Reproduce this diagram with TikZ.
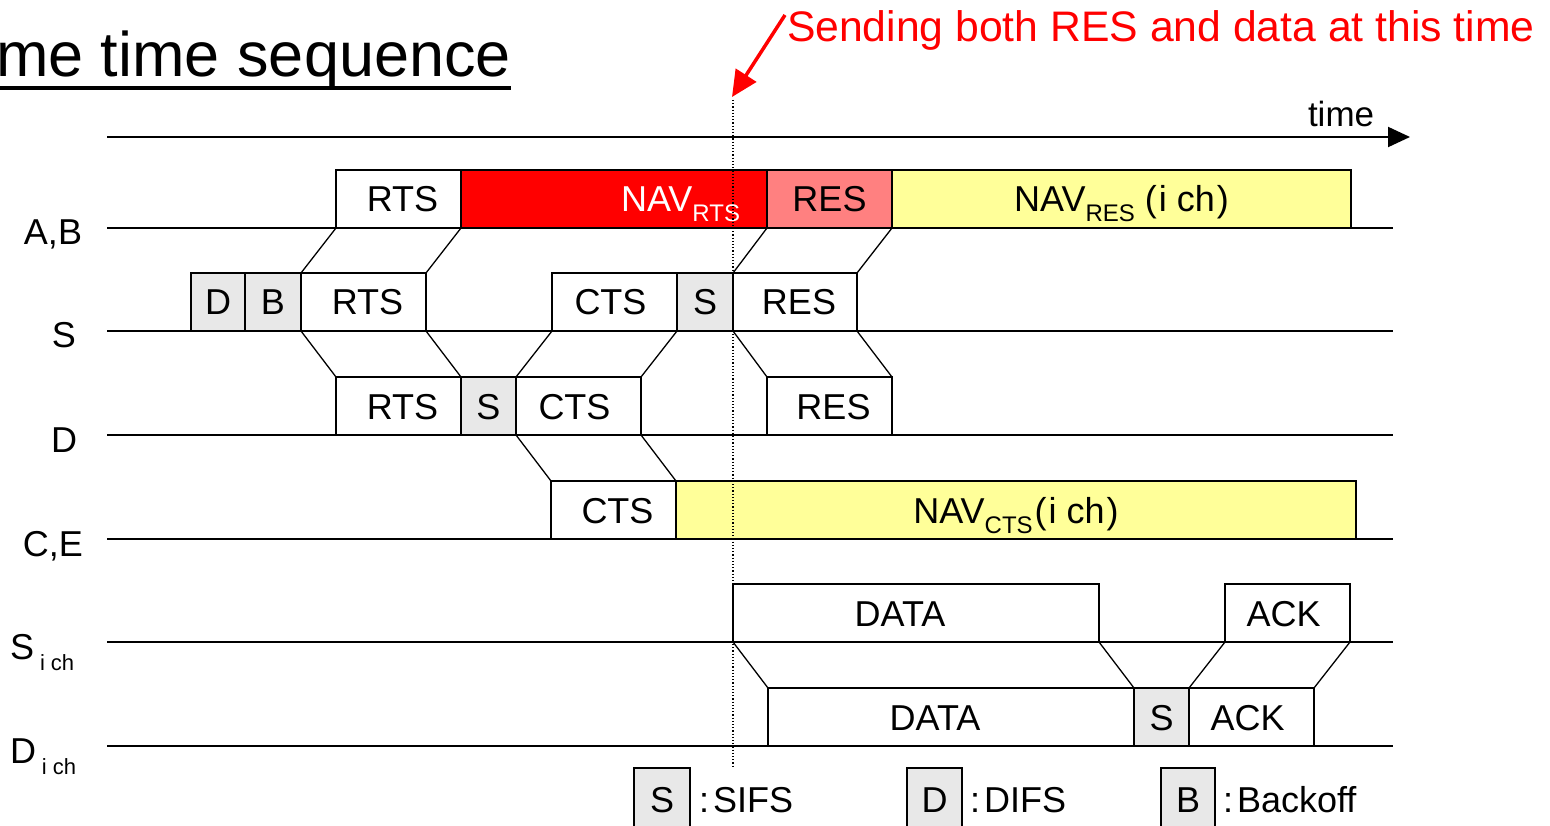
\documentclass[tikz,border=0pt]{standalone}
\usepackage{fontspec}
\setmainfont{Liberation Sans}
\usetikzlibrary{arrows.meta}
\definecolor{navred}{HTML}{FF0000}
\definecolor{respink}{HTML}{FF8080}
\definecolor{navyel}{HTML}{FFFF99}
\definecolor{sgrey}{HTML}{E8E8E8}
\newcommand\subtxt[1]{\raisebox{-10pt}{\fontsize{24}{24}\selectfont #1}}
\newcommand\ich{(\hspace{2pt}i ch\hspace{2pt})}
\newcommand\bx[6]{\node[frame,fill=#5,minimum width={#3-#2},anchor=south west] (#1) at (#2,#4) {#6};}
\tikzset{
  frame/.style={draw, line width=1.6pt, inner sep=0pt, outer sep=0pt, minimum height=58pt,
    text height=26pt, text depth=0pt, font=\fontsize{36}{40}\selectfont},
  tline/.style={line width=2pt},
  prop/.style={line width=1.3pt},
  lbl/.style={inner sep=0pt, outer sep=0pt, font=\fontsize{36}{40}\selectfont},
}
\begin{document}
\begin{tikzpicture}[x=1pt,y=-1pt]
\useasboundingbox (0,0) rectangle (1550,826);
\clip (0,0) rectangle (1550,826);
% title
\node[lbl, anchor=base west, font=\fontsize{63}{70}\selectfont] (title) at (-4,77) {me time sequence};
\draw[line width=4pt] (0,88) -- (511,88);
% note
\node[lbl, anchor=base west, text=navred, font=\fontsize{42.7}{48}\selectfont] (note) at (787,42) {Sending both RES and data at this time};
\coordinate (arrS) at (785,15);
\coordinate (arrT) at (732,97);
\draw[navred, line width=3.5pt, -{Triangle[length=26pt,width=24pt]}] (arrS) -- (arrT);
% time axis
\coordinate (t0) at (107,137);
\coordinate (t1) at (1410,137);
\draw[tline, -{Triangle[length=22pt,width=20pt]}] (t0) -- (t1);
\node[lbl, anchor=base west, font=\fontsize{35}{40}\selectfont] (timelbl) at (1308,127) {time};
% timelines
\foreach \n/\y in {ab/228, s/331, d/435, ce/539, si/642, di/746}{
  \coordinate (\n L) at (107,\y);
  \coordinate (\n R) at (1393,\y);
  \draw[tline] (\n L) -- (\n R);
}
% row labels
\node[lbl, anchor=base] (labAB) at (53,245) {A,B};
\node[lbl, anchor=base] (labS) at (64,348) {S};
\node[lbl, anchor=base] (labD) at (64,452) {D};
\node[lbl, anchor=base] (labCE) at (53,556) {C,E};
\node[lbl, anchor=base west] (labSi) at (10,659) {S\hspace{6pt}\raisebox{-11pt}{\fontsize{22}{22}\selectfont i ch}};
\node[lbl, anchor=base west] (labDi) at (10,763) {D\hspace{6pt}\raisebox{-11pt}{\fontsize{22}{22}\selectfont i ch}};
% row A,B
\bx{abRTS}{336}{461}{228}{white}{\kern8pt RTS}
\bx{abNAV}{461}{767}{228}{navred}{}
\node[lbl, anchor=east, text=white, text height=26pt, text depth=0pt] (abNAVt) at ([xshift=-27pt]abNAV.east) {NAV\subtxt{RTS}};
\bx{abRES}{767}{892}{228}{respink}{RES}
\bx{abNAVr}{892}{1351}{228}{navyel}{NAV\subtxt{RES} \ich}
% row S
\bx{sD}{191}{245}{331}{sgrey}{D}
\bx{sB}{245}{301}{331}{sgrey}{B}
\bx{sRTS}{301}{426}{331}{white}{\kern8pt RTS}
\bx{sCTS}{552}{677}{331}{white}{CTS\kern8pt}
\bx{sS}{677}{733}{331}{sgrey}{S}
\bx{sRES}{733}{857}{331}{white}{\kern8pt RES}
% row D
\bx{dRTS}{336}{461}{435}{white}{\kern8pt RTS}
\bx{dS}{461}{516}{435}{sgrey}{S}
\bx{dCTS}{516}{641}{435}{white}{CTS\kern8pt}
\bx{dRES}{767}{892}{435}{white}{\kern8pt RES}
% row C,E
\bx{ceCTS}{551}{676}{539}{white}{\kern8pt CTS}
\bx{ceNAV}{676}{1356}{539}{navyel}{NAV\subtxt{CTS}\hspace{2pt}\ich}
% row S ich
\bx{iDATA}{733}{1099}{642}{white}{DATA\kern32pt}
\bx{iACK}{1225}{1350}{642}{white}{ACK\kern8pt}
% row D ich
\bx{jDATA}{768}{1134}{746}{white}{DATA\kern32pt}
\bx{jS}{1134}{1189}{746}{sgrey}{S}
\bx{jACK}{1189}{1314}{746}{white}{ACK\kern8pt}
% propagation
\draw[prop] (sRTS.north west) -- (abRTS.south west);
\draw[prop] (sRTS.north east) -- (abRTS.south east);
\draw[prop] (sRTS.south west) -- (dRTS.north west);
\draw[prop] (sRTS.south east) -- (dRTS.north east);
\draw[prop] (dCTS.north west) -- (sCTS.south west);
\draw[prop] (dCTS.north east) -- (sCTS.south east);
\draw[prop] (dCTS.south west) -- (ceCTS.north west);
\draw[prop] (dCTS.south east) -- (ceCTS.north east);
\draw[prop] (sRES.north west) -- (abRES.south west);
\draw[prop] (sRES.north east) -- (abRES.south east);
\draw[prop] (sRES.south west) -- (dRES.north west);
\draw[prop] (sRES.south east) -- (dRES.north east);
\draw[prop] (iDATA.south west) -- (jDATA.north west);
\draw[prop] (iDATA.south east) -- (jDATA.north east);
\draw[prop] (jACK.north west) -- (iACK.south west);
\draw[prop] (jACK.north east) -- (iACK.south east);
% legend
\node[frame, fill=sgrey, minimum width=56pt, minimum height=62pt, anchor=north west] (lgS) at (634,768) {S};
\node[lbl, anchor=base west] (lgSt) at (699,812) {:\hspace{4pt}SIFS};
\node[frame, fill=sgrey, minimum width=55pt, minimum height=62pt, anchor=north west] (lgD) at (907,768) {D};
\node[lbl, anchor=base west] (lgDt) at (970,812) {:\hspace{4pt}DIFS};
\node[frame, fill=sgrey, minimum width=54pt, minimum height=62pt, anchor=north west] (lgB) at (1161,768) {B};
\node[lbl, anchor=base west] (lgBt) at (1223,812) {:\hspace{4pt}Backoff};
% dotted time marker
\coordinate (dotT) at (733,100);
\coordinate (dotB) at (733,766);
\draw[dotted, line width=1.2pt] (dotT) -- (dotB);
\end{tikzpicture}
\end{document}
